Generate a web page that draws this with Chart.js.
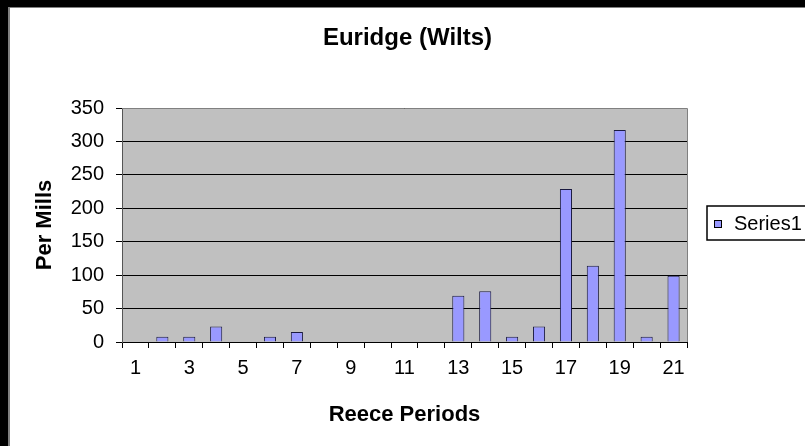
<!DOCTYPE html>
<html>
<head>
<meta charset="utf-8">
<script src="https://cdn.jsdelivr.net/npm/chart.js@4.4.1/dist/chart.umd.min.js"></script>
<style>
  html, body { margin: 0; padding: 0; background: #000; width: 805px; height: 446px; overflow: hidden; }
  #frame { position: absolute; left: 8px; top: 7px; width: 797px; height: 439px; background: #808080; }
  #wrap { position: absolute; left: 10px; top: 8px; width: 795px; height: 438px; background: #fff; }
</style>
</head>
<body>
<div id="frame"></div>
<div id="wrap"><canvas id="c" width="795" height="438"></canvas></div>
<script>
const categories = ['1','2','3','4','5','6','7','8','9','10','11','12','13','14','15','16','17','18','19','20','21'];
const series1 = [0, 8, 8, 23, 0, 8, 15, 0, 0, 0, 0, 0, 69, 76, 8, 23, 229, 114, 317, 8, 99];
const seriesName = 'Series1';
const yTicks = [0, 50, 100, 150, 200, 250, 300, 350];
const chartTitle = 'Euridge (Wilts)';
const xTitle = 'Reece Periods';
const yTitle = 'Per Mills';

const FONT = "'Liberation Sans', Arial, sans-serif";
const BAR_FILL = '#9999FF';

const plotBg = {
  id: 'plotBg',
  beforeDraw(chart) {
    const {ctx, chartArea: a} = chart;
    ctx.save();
    ctx.fillStyle = '#C0C0C0';
    ctx.fillRect(a.left, a.top, a.right - a.left, a.bottom - a.top);
    ctx.restore();
  },
  afterDatasetsDraw(chart) {
    const {ctx, chartArea: a} = chart;
    ctx.save();
    ctx.strokeStyle = '#808080';
    ctx.lineWidth = 1;
    ctx.beginPath();
    ctx.moveTo(a.left, a.top + 0.5);
    ctx.lineTo(a.right + 0.5, a.top + 0.5);
    ctx.lineTo(a.right + 0.5, a.bottom);
    ctx.stroke();
    ctx.restore();
  }
};

const boxLegend = {
  id: 'boxLegend',
  afterDraw(chart) {
    const {ctx} = chart;
    const ds = chart.data.datasets[0];
    ctx.save();
    ctx.strokeStyle = '#000';
    ctx.lineWidth = 1.5;
    ctx.fillStyle = '#fff';
    ctx.fillRect(697, 198, 120, 34);
    ctx.strokeRect(697, 198, 120, 34);
    ctx.fillStyle = ds.backgroundColor;
    ctx.fillRect(704, 212, 7, 7);
    ctx.lineWidth = 1;
    ctx.strokeRect(704.5, 212.5, 7, 7);
    ctx.fillStyle = '#000';
    ctx.font = '20px ' + FONT;
    ctx.textBaseline = 'middle';
    ctx.textAlign = 'left';
    ctx.fillText(ds.label, 724, 216);
    ctx.restore();
  }
};

new Chart(document.getElementById('c'), {
  type: 'bar',
  data: {
    labels: categories,
    datasets: [{
      label: seriesName,
      data: series1,
      backgroundColor: BAR_FILL,
      borderColor: '#1a1a40',
      borderWidth: 1,
      borderSkipped: 'bottom',
      barPercentage: 0.45,
      categoryPercentage: 1.0,
      yAxisID: 'y'
    }]
  },
  options: {
    responsive: false,
    animation: false,
    devicePixelRatio: 1,
    layout: { padding: 0 },
    plugins: {
      legend: { display: false },
      tooltip: { enabled: false },
      title: {
        display: true,
        text: chartTitle,
        color: '#000',
        font: { family: FONT, size: 24, weight: 'bold', lineHeight: 1.2 },
        padding: { top: 15.6, bottom: 55.6 }
      }
    },
    scales: {
      x: {
        offset: true,
        grid: { offset: true, drawOnChartArea: false, drawTicks: true, tickLength: 6, color: '#000' },
        border: { display: true, color: '#000', width: 1 },
        ticks: {
          autoSkip: false,
          maxRotation: 0,
          padding: 8,
          color: '#000',
          font: { family: FONT, size: 20 },
          callback: function(v, i) { return i % 2 === 0 ? categories[i] : ''; }
        },
        title: {
          display: true,
          text: xTitle,
          color: '#000',
          font: { family: FONT, size: 22, weight: 'bold', lineHeight: 1.2 },
          padding: { top: 17.8, bottom: 17.8 }
        },
        afterFit(scale) { scale.height = 104; }
      },
      y: {
        position: 'left',
        min: 0,
        max: 350,
        afterBuildTicks(scale) { scale.ticks = yTicks.map(v => ({ value: v })); },
        grid: { drawOnChartArea: true, drawTicks: true, tickLength: 6, color: '#000' },
        border: { display: true, color: '#555', width: 1 },
        ticks: {
          padding: 12,
          color: '#000',
          font: { family: FONT, size: 20 }
        },
        title: {
          display: true,
          text: yTitle,
          color: '#000',
          font: { family: FONT, size: 22, weight: 'bold', lineHeight: 1.2 },
          padding: { top: 22, bottom: 22 }
        },
        afterFit(scale) { scale.width = 112; }
      },
      legendSpace: {
        type: 'linear',
        position: 'right',
        display: true,
        grid: { display: false, drawTicks: false },
        border: { display: false },
        ticks: { display: false },
        afterFit(scale) { scale.width = 118; }
      }
    }
  },
  plugins: [plotBg, boxLegend]
});
</script>
</body>
</html>
